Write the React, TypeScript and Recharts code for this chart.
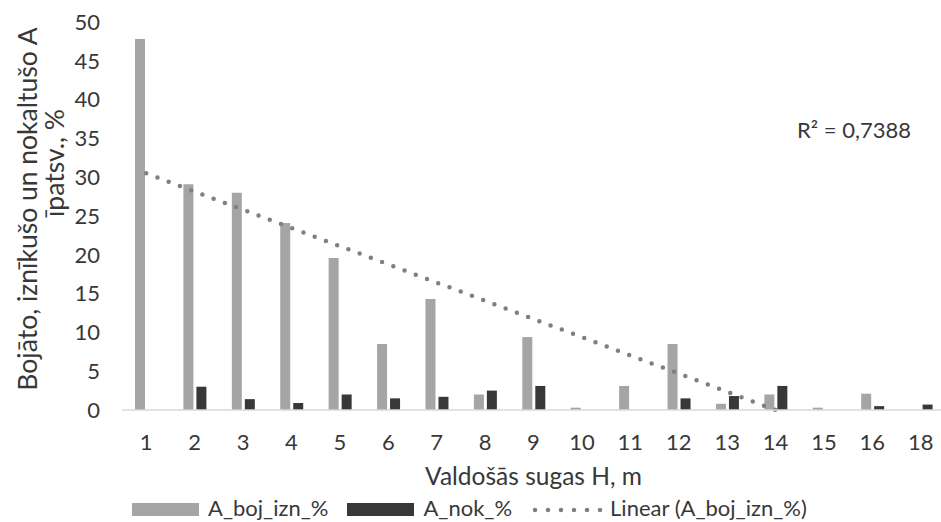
import { ComposedChart, Bar, Line, XAxis, YAxis, Legend } from 'recharts'

const categories = ['1', '2', '3', '4', '5', '6', '7', '8', '9', '10', '11', '12', '13', '14', '15', '16', '18']
const bojIzn = [47.8, 29.1, 28.0, 24.1, 19.6, 8.5, 14.3, 2.0, 9.4, 0.3, 3.1, 8.5, 0.8, 2.0, 0.3, 2.1, 0]
const nok = [0, 3.0, 1.4, 0.9, 2.0, 1.5, 1.7, 2.5, 3.1, 0, 0, 1.5, 1.8, 3.1, 0, 0.5, 0.7]
// trendline read at its two ends (x = 1 and x = 14)
const trend: (number | null)[] = [30.5, null, null, null, null, null, null, null, null, null, null, null, null, 0, null, null, null]
const yTicks = [0, 5, 10, 15, 20, 25, 30, 35, 40, 45, 50]

const data = categories.map((c, i) => ({ h: c, boj: bojIzn[i], nok: nok[i], trend: trend[i] }))

const FONT = 'Lato, sans-serif'
const TEXT = '#383838'
const GRAY = '#a5a5a5'
const DARK = '#383838'
const DOT = '#7f7f7f'

function YLabel() {
  return (
    <g fontFamily={FONT} fontSize={26.5} fill={TEXT}>
      <text transform="translate(37,209) rotate(-90)" textAnchor="middle">Bojāto, iznīkušo un nokaltušo A</text>
      <text transform="translate(64,163) rotate(-90)" textAnchor="middle">īpatsv., %</text>
    </g>
  )
}

function LegendBox() {
  const item = { display: 'flex', alignItems: 'center' } as const
  return (
    <div style={{ height: 30, boxSizing: 'border-box', paddingTop: 2, display: 'flex', alignItems: 'center', paddingLeft: 132, fontFamily: FONT, fontSize: 22, lineHeight: '22px', color: TEXT, gap: 19 }}>
      <div style={item}>
        <span style={{ width: 67, height: 13, background: GRAY, marginRight: 9, marginTop: 3 }} />
        A_boj_izn_%
      </div>
      <div style={item}>
        <span style={{ width: 67, height: 13, background: DARK, marginRight: 9, marginTop: 3 }} />
        A_nok_%
      </div>
      <div style={item}>
        <svg width={72} height={14} style={{ marginRight: 7, marginTop: 3 }}>
          <line x1={4} y1={7} x2={70} y2={7} stroke={DOT} strokeWidth={4.5} strokeLinecap="round" strokeDasharray="0 13" />
        </svg>
        Linear (A_boj_izn_%)
      </div>
    </div>
  )
}

export default function App() {
  return (
    <div style={{ position: 'absolute', left: 0, top: 0, width: 941, height: 522, overflow: 'hidden', background: '#fff' }}>
      <ComposedChart width={945} height={522} data={data} margin={{ top: 22, right: 0, left: 0, bottom: 0 }} barSize={10} barGap={3}>
        <XAxis
          dataKey="h"
          height={82}
          tickLine={false}
          tickSize={0}
          tickMargin={24}
          axisLine={{ stroke: '#d9d9d9', strokeWidth: 1.5 }}
          tick={{ fill: TEXT, fontSize: 22, fontFamily: FONT }}
          interval={0}
          label={{ value: 'Valdošās sugas H, m', position: 'insideBottom', offset: 7, fill: TEXT, fontSize: 24.5, fontFamily: FONT }}
        />
        <YAxis
          width={122}
          domain={[0, 50]}
          ticks={yTicks}
          tickLine={false}
          axisLine={false}
          tickSize={0}
          tickMargin={22}
          tick={{ fill: TEXT, fontSize: 22, fontFamily: FONT }}
          label={<YLabel />}
        />
        <Legend verticalAlign="bottom" content={() => <LegendBox />} />
        <Bar dataKey="boj" fill={GRAY} isAnimationActive={false} />
        <Bar dataKey="nok" fill={DARK} isAnimationActive={false} />
        <Line
          dataKey="trend"
          connectNulls
          stroke={DOT}
          strokeWidth={4.5}
          strokeLinecap="round"
          strokeDasharray="0 12"
          dot={false}
          activeDot={false}
          isAnimationActive={false}
        />
      </ComposedChart>
      <div style={{ position: 'absolute', left: 797, top: 116, fontFamily: FONT, fontSize: 22, color: TEXT, whiteSpace: 'nowrap' }}>
        R² = 0,7388
      </div>
    </div>
  )
}
